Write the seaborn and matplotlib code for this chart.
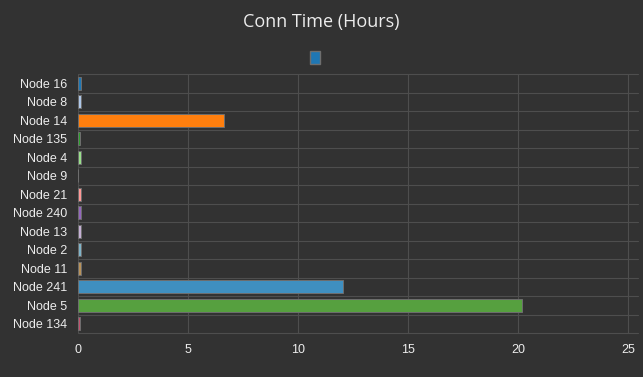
import matplotlib
matplotlib.use("Agg")
import matplotlib.pyplot as plt
import seaborn as sns
import pandas as pd
from matplotlib.patches import Patch

# dados
nodes = ["Node 16", "Node 8", "Node 14", "Node 135", "Node 4", "Node 9", "Node 21",
         "Node 240", "Node 13", "Node 2", "Node 11", "Node 241", "Node 5", "Node 134"]
hours = [0.15, 0.14, 6.64, 0.08, 0.14, 0.02, 0.14,
         0.14, 0.14, 0.14, 0.14, 12.05, 20.18, 0.1]
colors = ["#1f77b4", "#aec7e8", "#ff7f0e", "#2ca02c", "#98df8a", "#8c8c8c", "#ff9896",
          "#9467bd", "#c5b0d5", "#7fb3c8", "#b8925a", "#3f8fc0", "#56a03f", "#c2506e"]

dados = pd.DataFrame({"node": nodes, "hours": hours})

bg = "#323232"
grid = "#4e4e4e"
txt = "#ececec"

sns.set_style("dark")
plt.rcParams["font.family"] = ["Liberation Sans", "DejaVu Sans"]

fig = plt.figure(figsize=(6.43, 3.77), dpi=100, facecolor=bg)
ax = fig.add_axes([78 / 643, 44 / 377, 560 / 643, 259 / 377])
ax.set_facecolor(bg)

sns.barplot(data=dados, y="node", x="hours", hue="node", palette=colors, legend=False,
            saturation=1, width=0.72, edgecolor="#6e6e6e", linewidth=0.7, ax=ax)

ax.set_xlim(0, 25.45)
ax.set_ylim(len(nodes) - 0.5, -0.5)
ax.set_xticks([0, 5, 10, 15, 20, 25])
ax.set_xlabel("")
ax.set_ylabel("")

# linhas de grade: verticais nos ticks, horizontais entre as categorias
for v in [0, 5, 10, 15, 20, 25]:
    ax.axvline(v, color=grid, lw=0.8, zorder=0)
for i in range(len(nodes) + 1):
    ax.axhline(i - 0.5, color=grid, lw=0.8, zorder=0, clip_on=False)
ax.grid(False)
for s in ax.spines.values():
    s.set_visible(False)

ax.tick_params(axis="y", colors=txt, labelsize=9, length=0, pad=8)
ax.tick_params(axis="x", colors=txt, labelsize=9, length=0, pad=8)

fig.text(321 / 643, 1 - 22 / 377, "Conn Time (Hours)", ha="center", va="center",
         color=txt, fontsize=13, family=["Open Sans", "DejaVu Sans"])

fig.legend(handles=[Patch(facecolor="#1f77b4", edgecolor="#6e6e6e")], labels=[""],
           loc="center", bbox_to_anchor=(315 / 643, 1 - 58 / 377), frameon=False,
           handlelength=0.7, handleheight=1.1, handletextpad=0, borderpad=0)

fig.savefig("out.png", dpi=100, facecolor=bg)
